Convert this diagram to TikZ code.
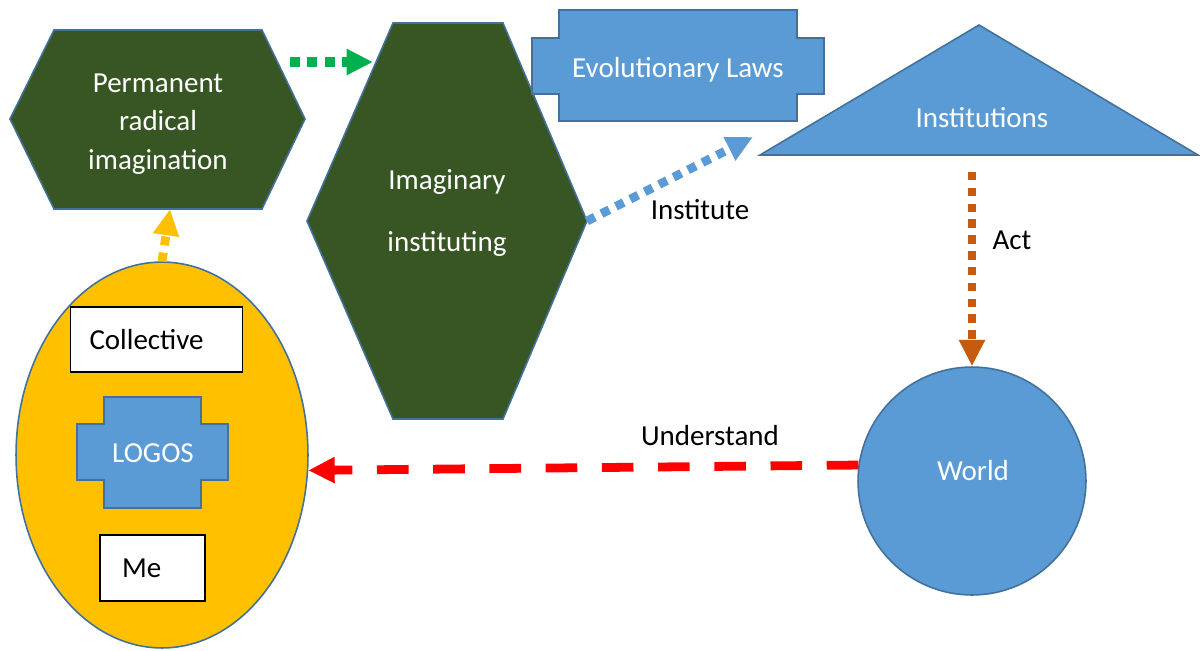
\documentclass[tikz,border=0pt]{standalone}
\usepackage{fontspec}
\setmainfont{Carlito}
\usetikzlibrary{arrows.meta, positioning, shapes.geometric, calc}

\definecolor{hexgreen}{HTML}{375623}
\definecolor{edgeblue}{HTML}{41719C}
\definecolor{boxblue}{HTML}{5B9BD5}
\definecolor{eggyellow}{HTML}{FFC000}
\definecolor{actorange}{HTML}{C55A11}
\definecolor{arrgreen}{HTML}{00B050}

\begin{document}
\begin{tikzpicture}[
  x=0.02cm, y=-0.02cm,             % one unit = one pixel of the sketch
  font=\fontsize{16.5}{21.8}\selectfont,
  >={Triangle[length=15pt,width=14pt]},
  outlined/.style={draw=edgeblue, line width=0.9pt},
  greenshape/.style={outlined, fill=hexgreen},
  blueshape/.style={outlined, fill=boxblue},
  inlabel/.style={text=white, align=center, inner sep=0pt},
  whitebox/.style={
    rectangle, draw=black, fill=white,
    line width=0.7pt, align=left
  },
  dotline/.style={line width=#1, dash pattern=on #1 off 4.2pt},
  dashline/.style={line width=5pt, dash pattern=on 18pt off 14pt},
]
\useasboundingbox (0,0) rectangle (1200,650);

% --- Top left: permanent radical imagination ---
\draw[greenshape] (10,119) -- (54,30) -- (262,30) -- (305,119)
  -- (262,209) -- (54,209) -- cycle;
\node[inlabel] (perm) at (158,124) {Permanent\\radical\\imagination};
\coordinate (permOut) at (290,62);
\coordinate (permIn) at (170,209);

% --- Imaginary instituting ---
\draw[greenshape] (307,221) -- (393,23) -- (503,23) -- (587,221)
  -- (503,419) -- (393,419) -- cycle;
\node[inlabel] (imag) at (447,213) {Imaginary\\[13pt]instituting};
\coordinate (imagIn) at (373,62);
\coordinate (imagOut) at (587,221);

% --- Evolutionary laws ---
\draw[blueshape] (559,10) -- (797,10) -- (797,38) -- (824,38) -- (824,94)
  -- (797,94) -- (797,121) -- (559,121) -- (559,94) -- (532,94)
  -- (532,38) -- (559,38) -- cycle;
\node[inlabel] (evol) at (678,70) {Evolutionary Laws};

% --- Institutions ---
\draw[blueshape] (760,155) -- (979,25) -- (1198,155) -- cycle;
\node[inlabel] (inst) at (982,118) {Institutions};
\coordinate (instIn) at (753,137);
\coordinate (actTop) at (972,172);

% --- World ---
\node[circle, blueshape, minimum size=4.56cm] (world) at (972,481) {};
\node[inlabel] (worldLbl) at (973,471) {World};

% --- Collective / logos / me ---
\node[ellipse, outlined, fill=eggyellow, minimum width=5.84cm,
  minimum height=7.72cm] (self) at (162,455) {};
\node[whitebox, minimum height=1.3cm, text width=2.68cm, inner xsep=11pt]
  (coll) at (156.5,339.5) {Collective\\[2pt]};
\draw[blueshape] (104,397) -- (201,397) -- (201,424) -- (228,424) -- (228,480)
  -- (201,480) -- (201,508) -- (104,508) -- (104,480) -- (77,480)
  -- (77,424) -- (104,424) -- cycle;
\node[inlabel] (logos) at (153,453) {LOGOS};
\node[whitebox, minimum height=1.32cm, text width=1.22cm, inner xsep=12.5pt]
  (me) at (152.5,568) {Me\\[2pt]};

% --- Arrows ---
\draw[->, arrgreen, dotline=5.7pt] (permOut) -- (imagIn);
\draw[->, eggyellow, dotline=5pt] (self.north) -- (permIn);
\draw[->, boxblue, dotline=5pt] (imagOut) -- (instIn);
\draw[->, actorange, dotline=4.8pt] (actTop) -- (world.north);
\draw[->, red, dashline] (world.172) -- (self.-6);

% --- Arrow labels ---
\node (instituteLbl) at (700,210) {Institute};
\node (actLbl) at (1012,240) {Act};
\node (understandLbl) at (710,436) {Understand};

\end{tikzpicture}
\end{document}
